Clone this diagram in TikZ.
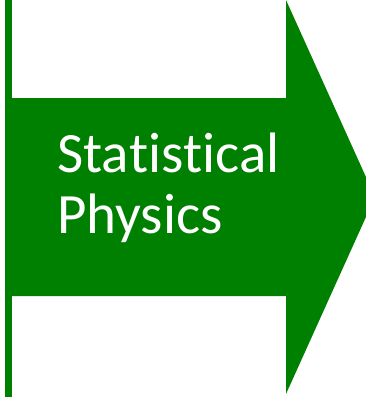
\documentclass[tikz,border=0pt]{standalone}
\usepackage{fontspec}
\setmainfont[RawFeature={-liga;-clig;-dlig;-calt}]{Carlito}
\usepackage{xcolor}
\definecolor{physgreen}{HTML}{008000}
\usepackage{tikz}
\usetikzlibrary{positioning}

\begin{document}
\begin{tikzpicture}[x=1pt, y=-1pt,
    greenfill/.style={fill=physgreen, draw=none},
    label/.style={text=white, font=\fontsize{57}{61}\selectfont,
        inner sep=0pt, anchor=base west}
]

% frame of the picture
\useasboundingbox (0,0) rectangle (366,397);
\clip (0,0) rectangle (366,397);

% bar on the left
\fill[greenfill] (5,0) rectangle (12,397);

% arrow body and head
\fill[greenfill] (12,98) -- (286,98) -- (286,0) -- (375,197)
    -- (286,394) -- (286,296) -- (12,296) -- cycle;

% text
\node[label] (stat) at (57,172) {Sta\kern0pt tis\kern0pt tical};
\node[label] (phys) at (57,233) {Physics};

\end{tikzpicture}
\end{document}
